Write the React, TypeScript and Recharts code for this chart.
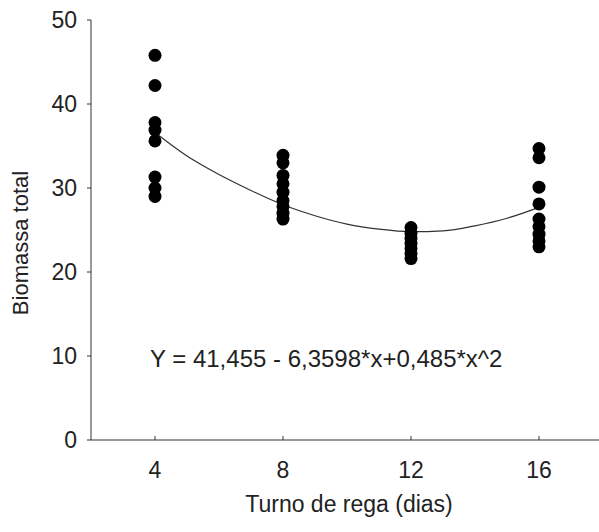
import React from "react";
import { ComposedChart, Scatter, Line, XAxis, YAxis, Customized } from "recharts";

// Irrigation interval (days)
const turnoTicks = [4, 8, 12, 16];
const yTicks = [0, 10, 20, 30, 40, 50];

// Observed total biomass per irrigation interval
const biomassa4 = [45.8, 42.2, 37.8, 36.9, 35.6, 31.3, 30.0, 29.0];
const biomassa8 = [33.9, 33.0, 31.5, 30.5, 29.5, 28.5, 27.8, 27.0, 26.3];
const biomassa12 = [25.3, 24.6, 24.0, 23.4, 22.8, 22.2, 21.6];
const biomassa16 = [34.7, 33.6, 30.1, 28.1, 26.3, 25.4, 24.5, 23.7, 23.0];

// Fitted curve
const curveX = [4, 5, 6, 7, 8, 9, 10, 11, 12, 13, 14, 15, 16];
const curveY = [36.6, 33.8, 31.6, 29.7, 28.0, 26.7, 25.7, 25.1, 24.8, 24.9, 25.5, 26.4, 27.7];

const equationText = "Y = 41,455 - 6,3598*x+0,485*x^2";
const xTitle = "Turno de rega (dias)";
const yTitle = "Biomassa total";

const groups = [biomassa4, biomassa8, biomassa12, biomassa16];
const points = groups.flatMap((vals, i) => vals.map((v) => ({ x: turnoTicks[i], y: v })));
const curve = curveX.map((x, i) => ({ x, y: curveY[i] }));

const FONT = "'Liberation Sans', Arial, sans-serif";
const TXT = "#222";

const XTick = (props: any) => {
  const { x, y, payload } = props;
  return (
    <g>
      <line x1={x} y1={y} x2={x} y2={y - 4} stroke="#333" strokeWidth={1} />
      <text x={x} y={y + 38} textAnchor="middle" fontSize={23} fontFamily={FONT} fill={TXT}>
        {payload.value}
      </text>
    </g>
  );
};

const Extras = () => (
  <g>
    <text x={150} y={367} fontSize={24} fontFamily={FONT} fill={TXT}>
      {equationText}
    </text>
    <text x={349} y={512} textAnchor="middle" fontSize={23} fontFamily={FONT} fill={TXT}>
      {xTitle}
    </text>
    <text
      x={20}
      y={243}
      textAnchor="middle"
      dominantBaseline="central"
      fontSize={22}
      fontFamily={FONT}
      fill={TXT}
      transform="rotate(-90 20 243)"
    >
      {yTitle}
    </text>
  </g>
);

export default function App() {
  return (
    <div style={{ position: "absolute", left: 0, top: 0, width: 599, height: 532, overflow: "hidden", background: "#fff" }}>
      <ComposedChart width={610} height={532} margin={{ top: 20, right: 7, bottom: 0, left: 0 }}>
        <XAxis
          type="number"
          dataKey="x"
          domain={[2, 18]}
          ticks={turnoTicks}
          allowDataOverflow
          height={92}
          tickSize={0}
          tickMargin={0}
          tickLine={false}
          tick={<XTick />}
          axisLine={{ stroke: "#333", strokeWidth: 1 }}
        />
        <YAxis
          type="number"
          dataKey="y"
          domain={[0, 50]}
          ticks={yTicks}
          width={91}
          tickSize={4}
          tickMargin={10}
          tickLine={{ stroke: "#333" }}
          axisLine={{ stroke: "#333", strokeWidth: 1 }}
          tick={{ fontSize: 23, fontFamily: FONT, fill: TXT }}
        />
        <Line
          data={curve}
          dataKey="y"
          type="monotone"
          stroke="#333"
          strokeWidth={1.2}
          dot={false}
          isAnimationActive={false}
        />
        <Scatter
          data={points}
          dataKey="y"
          fill="#000"
          shape={(p: any) => <circle cx={p.cx} cy={p.cy} r={6.5} fill="#000" />}
          isAnimationActive={false}
        />
        <Customized component={Extras} />
      </ComposedChart>
    </div>
  );
}
